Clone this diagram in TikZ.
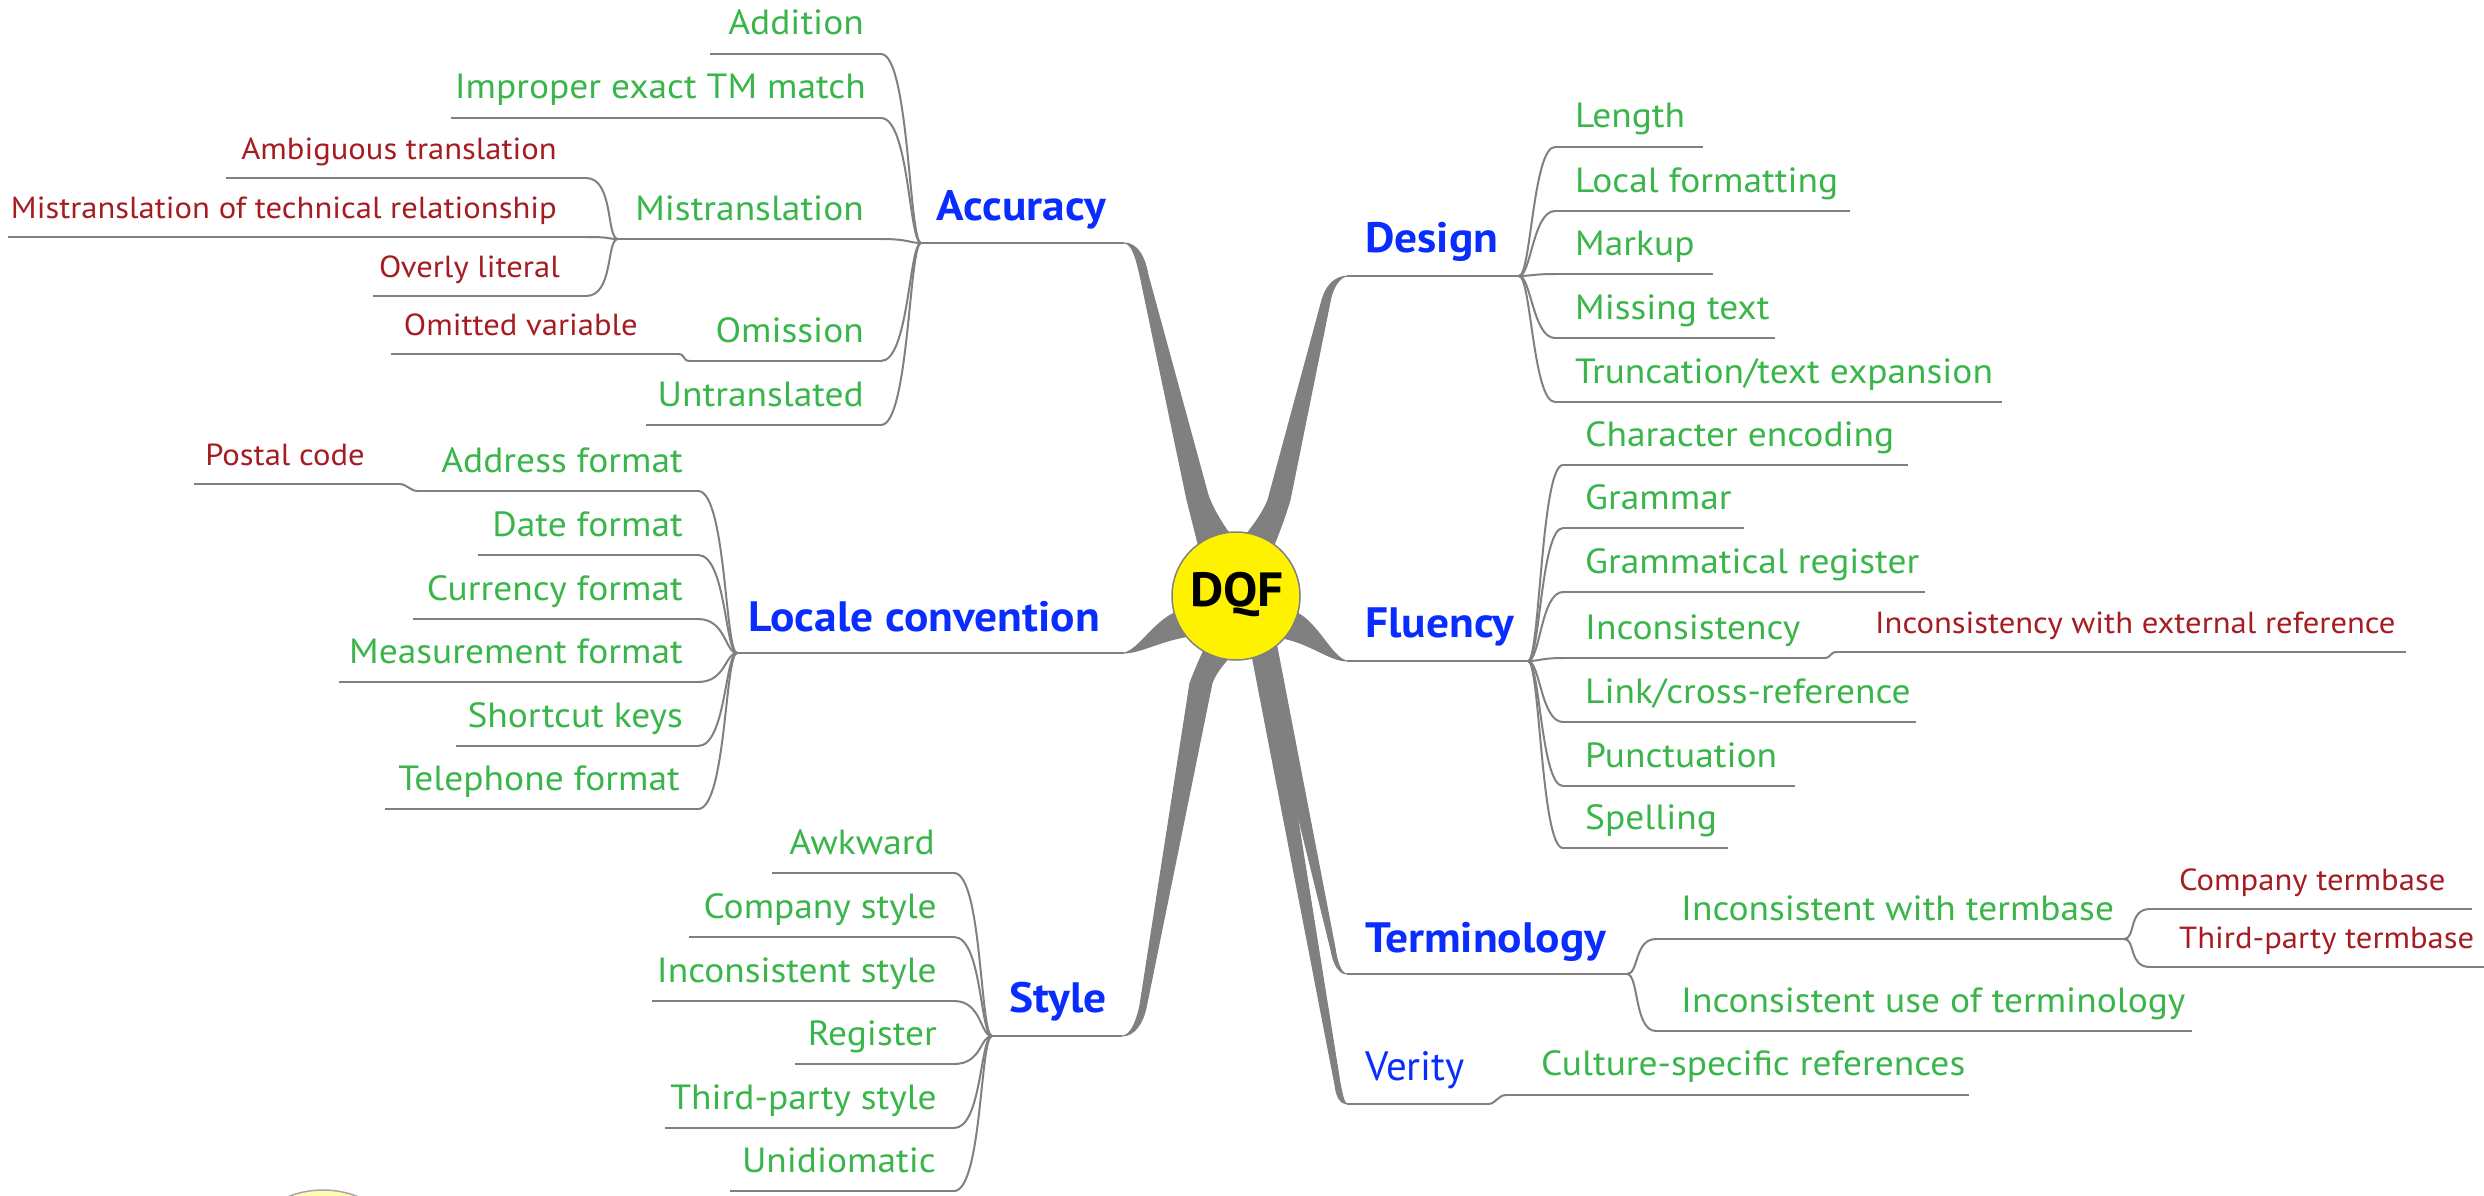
\documentclass[tikz,border=0pt]{standalone}
\usepackage{fontspec}
\setmainfont{PT Sans}[FakeStretch=1.07]
\newfontfamily\plainsans{PT Sans}
\definecolor{leafgreen}{RGB}{57,181,74}
\definecolor{leafred}{RGB}{165,28,34}
\definecolor{catblue}{RGB}{10,45,255}
\definecolor{linegray}{RGB}{128,128,128}

\tikzset{
  leaf/.style={text=leafgreen, font=\fontsize{35}{40}\selectfont, inner sep=0pt},
  subleaf/.style={text=leafred, font=\fontsize{30.5}{34}\selectfont, inner sep=0pt},
  cat/.style={text=catblue, font=\bfseries\fontsize{42.5}{48}\selectfont, inner sep=0pt},
  uline/.style={draw=linegray, line width=2.8pt},
  conn/.style={draw=linegray, line width=2pt},
  trunk/.style={fill=linegray, draw=linegray, line width=1pt, line join=round},
  hub/.style={circle, fill=yellow, draw=linegray, line width=1.5pt, minimum size=128pt, inner sep=0pt},
}

% left-hand leaf: name, style, text, text right x, line left x, line right x, line y, parent point
\newcommand{\lleaf}[8]{%
  \node[#2, anchor=base east] (#1) at (#4,#7-19) {#3};
  \draw[uline] (#5,#7) coordinate (#1-l) -- (#6,#7) coordinate (#1-u);
  \draw[conn] (#1-u) .. controls +(28,0) and +(-12,0) .. (#8);
}
% right-hand leaf: name, style, text, text left x, line left x, line right x, line y, parent point
\newcommand{\rleaf}[8]{%
  \node[#2, anchor=base west] (#1) at (#4,#7-19) {#3};
  \draw[uline] (#5,#7) coordinate (#1-u) -- (#6,#7) coordinate (#1-r);
  \draw[conn] (#8) .. controls +(12,0) and +(-22,0) .. (#1-u);
}

\begin{document}
\begin{tikzpicture}[x=1pt,y=-1pt]
\useasboundingbox (0,0) rectangle (2484,1196);

% ---------- category headings and their underlines ----------
\node[cat, anchor=base east] (acc) at (1106,220) {Accuracy};
\draw[uline] (921,243) coordinate (acc-b) -- (1124,243) coordinate (acc-t);
\node[cat, anchor=base east] (loc) at (1100,631) {Locale convention};
\draw[uline] (737,653) coordinate (loc-b) -- (1124,653) coordinate (loc-t);
\node[cat, anchor=base east] (sty) at (1107,1012) {Style};
\draw[uline] (992,1036) coordinate (sty-b) -- (1122,1036) coordinate (sty-t);

\node[cat, anchor=base west] (des) at (1365,252) {Design};
\draw[uline] (1347,276) coordinate (des-t) -- (1519,276) coordinate (des-b);
\node[cat, anchor=base west] (flu) at (1365,637) {Fluency};
\draw[uline] (1347,661) coordinate (flu-t) -- (1528,661) coordinate (flu-b);
\node[cat, anchor=base west] (ter) at (1365,952) {Terminology};
\draw[uline] (1347,974) coordinate (ter-t) -- (1627,974) coordinate (ter-b);
\node[cat, font=\plainsans\fontsize{41}{48}\selectfont, anchor=base west] (ver) at (1365,1080) {Verity};
\draw[uline] (1347,1104) coordinate (ver-t) -- (1488,1104) coordinate (ver-b);

% ---------- tapered trunks from the hub ----------
\fill[trunk] (acc-t) .. controls (1133,243) and (1137,262) .. (1141,280) -- (1187,500)
  .. controls (1192,520) and (1196,535) .. (1200,552) -- (1238,545)
  .. controls (1226,530) and (1214,512) .. (1208,495) -- (1148,275)
  .. controls (1145,258) and (1138,243) .. (acc-t) -- cycle;
\fill[trunk] (des-t) .. controls (1340,277) and (1334,286) .. (1331,297) -- (1290,500)
  .. controls (1284,520) and (1278,535) .. (1272,550) -- (1238,545)
  .. controls (1250,530) and (1262,515) .. (1268,500) -- (1322,300)
  .. controls (1326,286) and (1334,277) .. (des-t) -- cycle;
\fill[trunk] (sty-t) .. controls (1131,1036) and (1137,1020) .. (1140,1005) -- (1190,683)
  .. controls (1195,670) and (1200,658) .. (1206,646) -- (1234,652)
  .. controls (1225,662) and (1216,672) .. (1212,683) -- (1146,1008)
  .. controls (1143,1022) and (1135,1036) .. (sty-t) -- cycle;
\fill[trunk] (ter-t) .. controls (1338,974) and (1333,962) .. (1331,950) -- (1256,645)
  -- (1276,642) -- (1335,948) .. controls (1337,962) and (1341,974) .. (ter-t) -- cycle;
\fill[trunk] (ver-t) .. controls (1340,1104) and (1336,1095) .. (1335,1085) -- (1250,645)
  -- (1270,645) -- (1340,1083) .. controls (1342,1093) and (1344,1104) .. (ver-t) -- cycle;
\fill[trunk] (1288,610) .. controls (1315,614) and (1330,658) .. (flu-t)
  .. controls (1330,661) and (1310,643) .. (1282,638) -- cycle;
\fill[trunk] (1184,610) .. controls (1158,614) and (1140,650) .. (loc-t)
  .. controls (1140,653) and (1162,640) .. (1190,636) -- cycle;

% ---------- hub ----------
\node[hub] (dqf) at (1236,596) {};
\node[font=\bfseries\fontsize{48}{52}\selectfont, anchor=base, inner sep=0pt] (dqf-text) at (1237,606) {DQF};

% ---------- Accuracy ----------
\lleaf{add}{leaf}{Addition}{864}{710}{881}{54}{acc-b}
\lleaf{imp}{leaf}{Improper exact TM match}{866}{451}{881}{118}{acc-b}
\lleaf{mis}{leaf}{Mistranslation}{864}{618}{881}{239}{acc-b}
\lleaf{om}{leaf}{Omission}{864}{690}{881}{361}{acc-b}
\lleaf{unt}{leaf}{Untranslated}{864}{646}{881}{425}{acc-b}
\lleaf{amb}{subleaf}{Ambiguous translation}{557}{226}{586}{178}{mis-l}
\lleaf{mtr}{subleaf}{Mistranslation of technical relationship}{557}{8}{586}{237}{mis-l}
\lleaf{lit}{subleaf}{Overly literal}{560}{373}{586}{296}{mis-l}
\node[subleaf, anchor=base east] (omv) at (638,335) {Omitted variable};
\draw[uline] (391,354) -- (678,354) coordinate (omv-u);
\draw[conn] (omv-u) .. controls +(8,0) and +(-8,0) .. (om-l);

% ---------- Locale convention ----------
\lleaf{adr}{leaf}{Address format}{683}{418}{698}{491}{loc-b}
\lleaf{dat}{leaf}{Date format}{683}{478}{698}{555}{loc-b}
\lleaf{cur}{leaf}{Currency format}{683}{413}{698}{619}{loc-b}
\lleaf{mea}{leaf}{Measurement format}{683}{339}{698}{682}{loc-b}
\lleaf{sho}{leaf}{Shortcut keys}{683}{456}{698}{746}{loc-b}
\lleaf{tel}{leaf}{Telephone format}{680}{385}{698}{809}{loc-b}
\node[subleaf, anchor=base east] (pos) at (365,465) {Postal code};
\draw[uline] (194,484) -- (399,484) coordinate (pos-u);
\draw[conn] (pos-u) .. controls +(8,0) and +(-8,0) .. (adr-l);

% ---------- Style ----------
\lleaf{awk}{leaf}{Awkward}{935}{772}{954}{873}{sty-b}
\lleaf{cst}{leaf}{Company style}{937}{689}{954}{937}{sty-b}
\lleaf{ist}{leaf}{Inconsistent style}{937}{652}{954}{1001}{sty-b}
\lleaf{reg}{leaf}{Register}{937}{795}{954}{1064}{sty-b}
\lleaf{tps}{leaf}{Third-party style}{937}{665}{954}{1128}{sty-b}
\lleaf{uni}{leaf}{Unidiomatic}{936}{730}{954}{1191}{sty-b}

% ---------- Design ----------
\rleaf{len}{leaf}{Length}{1575}{1555}{1703}{147}{des-b}
\rleaf{lfm}{leaf}{Local formatting}{1575}{1555}{1850}{211}{des-b}
\rleaf{mku}{leaf}{Markup}{1575}{1555}{1713}{274}{des-b}
\rleaf{mst}{leaf}{Missing text}{1575}{1555}{1775}{338}{des-b}
\rleaf{trc}{leaf}{Truncation/text expansion}{1575}{1555}{2002}{402}{des-b}

% ---------- Fluency ----------
\rleaf{chr}{leaf}{Character encoding}{1585}{1563}{1908}{465}{flu-b}
\rleaf{gra}{leaf}{Grammar}{1585}{1563}{1744}{528}{flu-b}
\rleaf{grr}{leaf}{Grammatical register}{1585}{1563}{1925}{592}{flu-b}
\rleaf{inc}{leaf}{Inconsistency}{1585}{1563}{1824}{658}{flu-b}
\rleaf{lnk}{leaf}{Link/cross-reference}{1585}{1563}{1916}{722}{flu-b}
\rleaf{pun}{leaf}{Punctuation}{1585}{1563}{1795}{786}{flu-b}
\rleaf{spe}{leaf}{Spelling}{1585}{1563}{1728}{848}{flu-b}
\node[subleaf, anchor=base west] (ext) at (1875,633) {Inconsistency with external reference};
\draw[uline] (1837,652) coordinate (ext-u) -- (2406,652);
\draw[conn] (inc-r) .. controls +(8,0) and +(-8,0) .. (ext-u);

% ---------- Terminology ----------
\rleaf{itb}{leaf}{Inconsistent with termbase}{1681}{1656}{2124}{939}{ter-b}
\rleaf{iut}{leaf}{Inconsistent use of terminology}{1681}{1656}{2192}{1031}{ter-b}
\rleaf{ctb}{subleaf}{Company termbase}{2179}{2150}{2472}{909}{itb-r}
\rleaf{ttb}{subleaf}{Third-party termbase}{2179}{2150}{2490}{967}{itb-r}

% ---------- Verity ----------
\node[leaf, anchor=base west] (csr) at (1541,1075) {Culture-specific references};
\draw[uline] (1506,1095) coordinate (csr-u) -- (1969,1095);
\draw[conn] (ver-b) .. controls +(8,0) and +(-8,0) .. (csr-u);

% ---------- neighbouring hub, cut by the lower edge ----------
\begin{scope}
  \clip (0,0) rectangle (2484,1196);
  \draw[fill=yellow!30, draw=linegray!70, line width=1.5pt] (323,1285) circle (95pt);
\end{scope}
\end{tikzpicture}
\end{document}
